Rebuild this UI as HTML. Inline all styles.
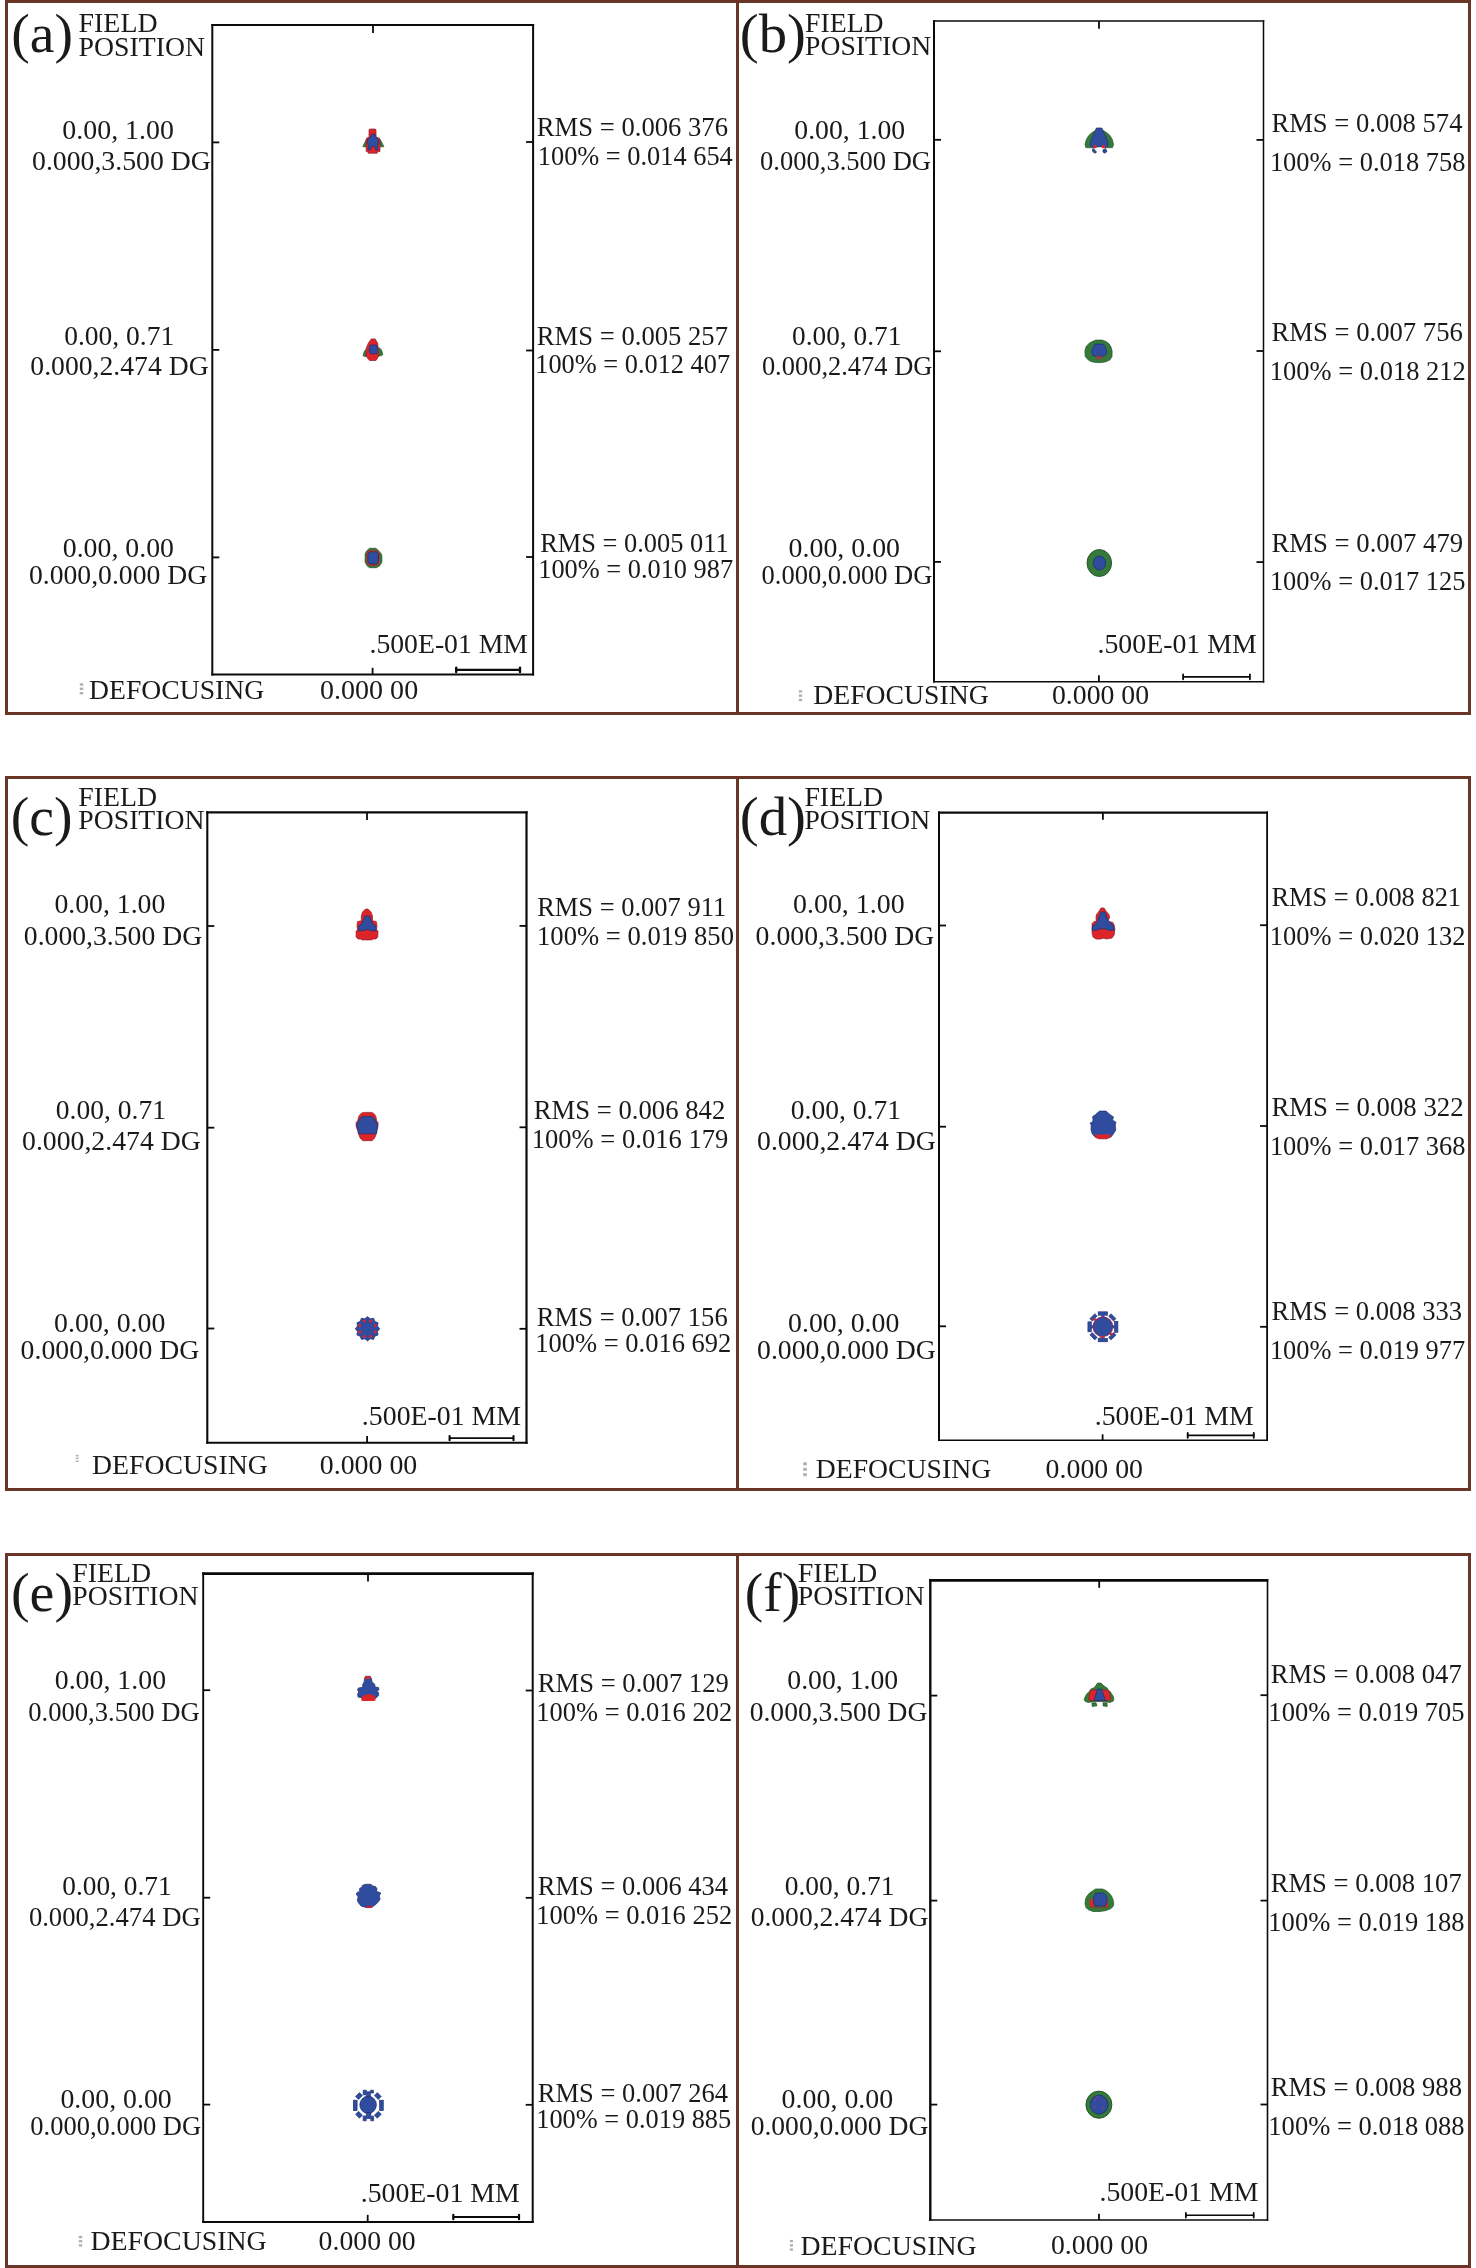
<!DOCTYPE html>
<html><head><meta charset="utf-8"><title>Spot diagrams</title>
<style>
html,body{margin:0;padding:0;background:#fff;}
body{width:1476px;height:2268px;overflow:hidden;font-family:"Liberation Serif",serif;}
svg{display:block;will-change:transform;}
</style></head><body>
<svg width="1476" height="2268" viewBox="0 0 1476 2268" font-family="'Liberation Serif', serif">
<rect x="5" y="0" width="1466" height="3" fill="#6a3527"/>
<rect x="5" y="712" width="1466" height="3" fill="#6a3527"/>
<rect x="5" y="0" width="3" height="715" fill="#6a3527"/>
<rect x="1468" y="0" width="3" height="715" fill="#6a3527"/>
<rect x="736" y="0" width="3" height="715" fill="#6a3527"/>
<rect x="5" y="776" width="1466" height="3" fill="#6a3527"/>
<rect x="5" y="1488" width="1466" height="3" fill="#6a3527"/>
<rect x="5" y="776" width="3" height="715" fill="#6a3527"/>
<rect x="1468" y="776" width="3" height="715" fill="#6a3527"/>
<rect x="736" y="776" width="3" height="715" fill="#6a3527"/>
<rect x="5" y="1553" width="1466" height="3" fill="#6a3527"/>
<rect x="5" y="2265" width="1466" height="3" fill="#6a3527"/>
<rect x="5" y="1553" width="3" height="715" fill="#6a3527"/>
<rect x="1468" y="1553" width="3" height="715" fill="#6a3527"/>
<rect x="736" y="1553" width="3" height="715" fill="#6a3527"/>
<path d="M212.30 24.00V675.60" stroke="#0a0a0a" stroke-width="2.00" fill="none"/>
<path d="M533.10 24.00V675.60" stroke="#0a0a0a" stroke-width="2.00" fill="none"/>
<path d="M211.30 25.00H534.10" stroke="#0a0a0a" stroke-width="2.00" fill="none"/>
<path d="M211.30 674.50H534.10" stroke="#0a0a0a" stroke-width="2.20" fill="none"/>
<line x1="373.00" y1="25.00" x2="373.00" y2="33.00" stroke="#0a0a0a" stroke-width="1.80"/>
<line x1="372.60" y1="674.50" x2="372.60" y2="667.80" stroke="#0a0a0a" stroke-width="1.80"/>
<line x1="212.30" y1="142.40" x2="219.30" y2="142.40" stroke="#0a0a0a" stroke-width="1.80"/>
<line x1="212.30" y1="349.90" x2="219.30" y2="349.90" stroke="#0a0a0a" stroke-width="1.80"/>
<line x1="212.30" y1="557.40" x2="219.30" y2="557.40" stroke="#0a0a0a" stroke-width="1.80"/>
<line x1="526.10" y1="142.00" x2="533.10" y2="142.00" stroke="#0a0a0a" stroke-width="1.80"/>
<line x1="526.10" y1="350.50" x2="533.10" y2="350.50" stroke="#0a0a0a" stroke-width="1.80"/>
<line x1="526.10" y1="557.00" x2="533.10" y2="557.00" stroke="#0a0a0a" stroke-width="1.80"/>
<line x1="456.20" y1="669.90" x2="520.00" y2="669.90" stroke="#0a0a0a" stroke-width="2.20"/>
<line x1="456.20" y1="667.80" x2="456.20" y2="672.00" stroke="#0a0a0a" stroke-width="2.40" stroke-linecap="round"/>
<line x1="520.00" y1="667.80" x2="520.00" y2="672.00" stroke="#0a0a0a" stroke-width="2.40" stroke-linecap="round"/>
<rect x="79.8" y="683.3" width="3.4" height="2.4" fill="#6a5a6a" opacity="0.5"/>
<rect x="79.8" y="687.6" width="3.4" height="2.4" fill="#6a5a6a" opacity="0.5"/>
<rect x="79.8" y="692.0" width="3.4" height="2.4" fill="#6a5a6a" opacity="0.5"/>
<text x="11.25" y="51.60" font-size="55.00" textLength="61.79" lengthAdjust="spacingAndGlyphs" fill="#1a1a1a">(a)</text>
<text x="78.60" y="31.70" font-size="26.60" textLength="78.92" lengthAdjust="spacingAndGlyphs" fill="#1a1a1a">FIELD</text>
<text x="78.60" y="55.70" font-size="26.60" textLength="126.44" lengthAdjust="spacingAndGlyphs" fill="#1a1a1a">POSITION</text>
<text x="62.34" y="139.20" font-size="26.80" textLength="111.63" lengthAdjust="spacingAndGlyphs" fill="#1a1a1a">0.00, 1.00</text>
<text x="32.04" y="169.70" font-size="26.80" textLength="178.72" lengthAdjust="spacingAndGlyphs" fill="#1a1a1a">0.000,3.500 DG</text>
<text x="536.83" y="136.10" font-size="26.80" textLength="191.16" lengthAdjust="spacingAndGlyphs" fill="#1a1a1a">RMS = 0.006 376</text>
<text x="537.78" y="164.80" font-size="26.80" textLength="195.03" lengthAdjust="spacingAndGlyphs" fill="#1a1a1a">100% = 0.014 654</text>
<text x="64.15" y="344.90" font-size="26.80" textLength="110.00" lengthAdjust="spacingAndGlyphs" fill="#1a1a1a">0.00, 0.71</text>
<text x="30.35" y="374.70" font-size="26.80" textLength="178.32" lengthAdjust="spacingAndGlyphs" fill="#1a1a1a">0.000,2.474 DG</text>
<text x="536.83" y="344.80" font-size="26.80" textLength="191.13" lengthAdjust="spacingAndGlyphs" fill="#1a1a1a">RMS = 0.005 257</text>
<text x="535.28" y="372.80" font-size="26.80" textLength="194.87" lengthAdjust="spacingAndGlyphs" fill="#1a1a1a">100% = 0.012 407</text>
<text x="62.74" y="556.60" font-size="26.80" textLength="111.22" lengthAdjust="spacingAndGlyphs" fill="#1a1a1a">0.00, 0.00</text>
<text x="28.95" y="583.60" font-size="26.80" textLength="178.22" lengthAdjust="spacingAndGlyphs" fill="#1a1a1a">0.000,0.000 DG</text>
<text x="540.14" y="552.10" font-size="26.80" textLength="188.64" lengthAdjust="spacingAndGlyphs" fill="#1a1a1a">RMS = 0.005 011</text>
<text x="538.28" y="577.90" font-size="26.80" textLength="194.87" lengthAdjust="spacingAndGlyphs" fill="#1a1a1a">100% = 0.010 987</text>
<text x="369.47" y="652.80" font-size="26.80" textLength="158.54" lengthAdjust="spacingAndGlyphs" fill="#1a1a1a">.500E-01 MM</text>
<text x="89.00" y="699.00" font-size="26.80" textLength="175.26" lengthAdjust="spacingAndGlyphs" fill="#1a1a1a">DEFOCUSING</text>
<text x="320.03" y="698.60" font-size="26.80" textLength="98.14" lengthAdjust="spacingAndGlyphs" fill="#1a1a1a">0.000 00</text>
<path d="M934.00 20.15V682.45" stroke="#0a0a0a" stroke-width="2.00" fill="none"/>
<path d="M1263.50 20.15V682.45" stroke="#0a0a0a" stroke-width="1.50" fill="none"/>
<path d="M933.00 21.00H1264.25" stroke="#0a0a0a" stroke-width="1.70" fill="none"/>
<path d="M933.00 681.70H1264.25" stroke="#0a0a0a" stroke-width="1.50" fill="none"/>
<line x1="1099.00" y1="21.00" x2="1099.00" y2="28.80" stroke="#0a0a0a" stroke-width="1.80"/>
<line x1="1098.90" y1="681.70" x2="1098.90" y2="675.30" stroke="#0a0a0a" stroke-width="1.80"/>
<line x1="934.00" y1="139.80" x2="941.00" y2="139.80" stroke="#0a0a0a" stroke-width="1.80"/>
<line x1="934.00" y1="351.30" x2="941.00" y2="351.30" stroke="#0a0a0a" stroke-width="1.80"/>
<line x1="934.00" y1="561.90" x2="941.00" y2="561.90" stroke="#0a0a0a" stroke-width="1.80"/>
<line x1="1256.50" y1="139.90" x2="1263.50" y2="139.90" stroke="#0a0a0a" stroke-width="1.80"/>
<line x1="1256.50" y1="351.00" x2="1263.50" y2="351.00" stroke="#0a0a0a" stroke-width="1.80"/>
<line x1="1256.50" y1="562.10" x2="1263.50" y2="562.10" stroke="#0a0a0a" stroke-width="1.80"/>
<line x1="1183.10" y1="676.90" x2="1249.90" y2="676.90" stroke="#0a0a0a" stroke-width="1.60"/>
<line x1="1183.10" y1="674.50" x2="1183.10" y2="679.30" stroke="#0a0a0a" stroke-width="1.80" stroke-linecap="round"/>
<line x1="1249.90" y1="674.50" x2="1249.90" y2="679.30" stroke="#0a0a0a" stroke-width="1.80" stroke-linecap="round"/>
<rect x="798.8" y="690.3" width="3.4" height="2.3" fill="#6a5a6a" opacity="0.5"/>
<rect x="798.8" y="694.5" width="3.4" height="2.3" fill="#6a5a6a" opacity="0.5"/>
<rect x="798.8" y="698.8" width="3.4" height="2.3" fill="#6a5a6a" opacity="0.5"/>
<text x="739.81" y="51.60" font-size="55.00" textLength="66.08" lengthAdjust="spacingAndGlyphs" fill="#1a1a1a">(b)</text>
<text x="805.10" y="31.50" font-size="26.60" textLength="78.51" lengthAdjust="spacingAndGlyphs" fill="#1a1a1a">FIELD</text>
<text x="805.10" y="55.20" font-size="26.60" textLength="126.03" lengthAdjust="spacingAndGlyphs" fill="#1a1a1a">POSITION</text>
<text x="794.34" y="139.10" font-size="26.80" textLength="110.91" lengthAdjust="spacingAndGlyphs" fill="#1a1a1a">0.00, 1.00</text>
<text x="760.09" y="169.60" font-size="26.80" textLength="170.94" lengthAdjust="spacingAndGlyphs" fill="#1a1a1a">0.000,3.500 DG</text>
<text x="1271.43" y="132.30" font-size="26.80" textLength="191.08" lengthAdjust="spacingAndGlyphs" fill="#1a1a1a">RMS = 0.008 574</text>
<text x="1269.88" y="170.50" font-size="26.80" textLength="195.53" lengthAdjust="spacingAndGlyphs" fill="#1a1a1a">100% = 0.018 758</text>
<text x="792.06" y="344.50" font-size="26.80" textLength="109.28" lengthAdjust="spacingAndGlyphs" fill="#1a1a1a">0.00, 0.71</text>
<text x="761.89" y="374.60" font-size="26.80" textLength="170.53" lengthAdjust="spacingAndGlyphs" fill="#1a1a1a">0.000,2.474 DG</text>
<text x="1271.43" y="340.90" font-size="26.80" textLength="191.46" lengthAdjust="spacingAndGlyphs" fill="#1a1a1a">RMS = 0.007 756</text>
<text x="1269.87" y="380.10" font-size="26.80" textLength="195.99" lengthAdjust="spacingAndGlyphs" fill="#1a1a1a">100% = 0.018 212</text>
<text x="788.54" y="556.80" font-size="26.80" textLength="111.52" lengthAdjust="spacingAndGlyphs" fill="#1a1a1a">0.00, 0.00</text>
<text x="761.49" y="583.90" font-size="26.80" textLength="170.94" lengthAdjust="spacingAndGlyphs" fill="#1a1a1a">0.000,0.000 DG</text>
<text x="1271.43" y="551.90" font-size="26.80" textLength="191.77" lengthAdjust="spacingAndGlyphs" fill="#1a1a1a">RMS = 0.007 479</text>
<text x="1269.88" y="590.10" font-size="26.80" textLength="195.56" lengthAdjust="spacingAndGlyphs" fill="#1a1a1a">100% = 0.017 125</text>
<text x="1097.47" y="653.30" font-size="26.80" textLength="159.25" lengthAdjust="spacingAndGlyphs" fill="#1a1a1a">.500E-01 MM</text>
<text x="813.20" y="703.80" font-size="26.80" textLength="175.56" lengthAdjust="spacingAndGlyphs" fill="#1a1a1a">DEFOCUSING</text>
<text x="1051.94" y="703.70" font-size="26.80" textLength="97.22" lengthAdjust="spacingAndGlyphs" fill="#1a1a1a">0.000 00</text>
<path d="M207.30 811.20V1443.70" stroke="#0a0a0a" stroke-width="2.10" fill="none"/>
<path d="M526.50 811.20V1443.70" stroke="#0a0a0a" stroke-width="2.20" fill="none"/>
<path d="M206.25 812.40H527.60" stroke="#0a0a0a" stroke-width="2.40" fill="none"/>
<path d="M206.25 1442.70H527.60" stroke="#0a0a0a" stroke-width="2.00" fill="none"/>
<line x1="367.00" y1="812.40" x2="367.00" y2="819.90" stroke="#0a0a0a" stroke-width="1.80"/>
<line x1="367.10" y1="1442.70" x2="367.10" y2="1435.90" stroke="#0a0a0a" stroke-width="1.80"/>
<line x1="207.30" y1="926.00" x2="214.30" y2="926.00" stroke="#0a0a0a" stroke-width="1.80"/>
<line x1="207.30" y1="1127.70" x2="214.30" y2="1127.70" stroke="#0a0a0a" stroke-width="1.80"/>
<line x1="207.30" y1="1328.50" x2="214.30" y2="1328.50" stroke="#0a0a0a" stroke-width="1.80"/>
<line x1="519.50" y1="925.90" x2="526.50" y2="925.90" stroke="#0a0a0a" stroke-width="1.80"/>
<line x1="519.50" y1="1127.30" x2="526.50" y2="1127.30" stroke="#0a0a0a" stroke-width="1.80"/>
<line x1="519.50" y1="1328.80" x2="526.50" y2="1328.80" stroke="#0a0a0a" stroke-width="1.80"/>
<line x1="449.60" y1="1438.10" x2="513.50" y2="1438.10" stroke="#0a0a0a" stroke-width="1.90"/>
<line x1="449.60" y1="1436.00" x2="449.60" y2="1440.20" stroke="#0a0a0a" stroke-width="2.10" stroke-linecap="round"/>
<line x1="513.50" y1="1436.00" x2="513.50" y2="1440.20" stroke="#0a0a0a" stroke-width="2.10" stroke-linecap="round"/>
<rect x="75.8" y="1454.9" width="2.8" height="1.5" fill="#6a5a6a" opacity="0.5"/>
<rect x="75.8" y="1457.6" width="2.8" height="1.5" fill="#6a5a6a" opacity="0.5"/>
<rect x="75.8" y="1460.4" width="2.8" height="1.5" fill="#6a5a6a" opacity="0.5"/>
<text x="10.65" y="835.00" font-size="55.00" textLength="61.79" lengthAdjust="spacingAndGlyphs" fill="#1a1a1a">(c)</text>
<text x="78.30" y="805.50" font-size="26.60" textLength="78.82" lengthAdjust="spacingAndGlyphs" fill="#1a1a1a">FIELD</text>
<text x="78.30" y="829.40" font-size="26.60" textLength="126.23" lengthAdjust="spacingAndGlyphs" fill="#1a1a1a">POSITION</text>
<text x="54.44" y="913.00" font-size="26.80" textLength="110.91" lengthAdjust="spacingAndGlyphs" fill="#1a1a1a">0.00, 1.00</text>
<text x="23.85" y="944.70" font-size="26.80" textLength="178.32" lengthAdjust="spacingAndGlyphs" fill="#1a1a1a">0.000,3.500 DG</text>
<text x="537.14" y="916.30" font-size="26.80" textLength="189.04" lengthAdjust="spacingAndGlyphs" fill="#1a1a1a">RMS = 0.007 911</text>
<text x="537.06" y="945.20" font-size="26.80" textLength="196.95" lengthAdjust="spacingAndGlyphs" fill="#1a1a1a">100% = 0.019 850</text>
<text x="55.85" y="1119.20" font-size="26.80" textLength="110.10" lengthAdjust="spacingAndGlyphs" fill="#1a1a1a">0.00, 0.71</text>
<text x="22.04" y="1149.70" font-size="26.80" textLength="178.72" lengthAdjust="spacingAndGlyphs" fill="#1a1a1a">0.000,2.474 DG</text>
<text x="533.73" y="1118.70" font-size="26.80" textLength="191.54" lengthAdjust="spacingAndGlyphs" fill="#1a1a1a">RMS = 0.006 842</text>
<text x="531.76" y="1147.90" font-size="26.80" textLength="196.52" lengthAdjust="spacingAndGlyphs" fill="#1a1a1a">100% = 0.016 179</text>
<text x="54.14" y="1332.00" font-size="26.80" textLength="111.22" lengthAdjust="spacingAndGlyphs" fill="#1a1a1a">0.00, 0.00</text>
<text x="20.64" y="1358.60" font-size="26.80" textLength="178.72" lengthAdjust="spacingAndGlyphs" fill="#1a1a1a">0.000,0.000 DG</text>
<text x="536.83" y="1325.90" font-size="26.80" textLength="190.86" lengthAdjust="spacingAndGlyphs" fill="#1a1a1a">RMS = 0.007 156</text>
<text x="535.27" y="1352.20" font-size="26.80" textLength="196.09" lengthAdjust="spacingAndGlyphs" fill="#1a1a1a">100% = 0.016 692</text>
<text x="361.87" y="1425.40" font-size="26.80" textLength="159.25" lengthAdjust="spacingAndGlyphs" fill="#1a1a1a">.500E-01 MM</text>
<text x="92.00" y="1474.00" font-size="26.80" textLength="175.77" lengthAdjust="spacingAndGlyphs" fill="#1a1a1a">DEFOCUSING</text>
<text x="319.74" y="1474.00" font-size="26.80" textLength="97.52" lengthAdjust="spacingAndGlyphs" fill="#1a1a1a">0.000 00</text>
<path d="M939.00 811.50V1441.00" stroke="#0a0a0a" stroke-width="2.00" fill="none"/>
<path d="M1267.10 811.50V1441.00" stroke="#0a0a0a" stroke-width="1.80" fill="none"/>
<path d="M938.00 812.60H1268.00" stroke="#0a0a0a" stroke-width="2.20" fill="none"/>
<path d="M938.00 1440.20H1268.00" stroke="#0a0a0a" stroke-width="1.60" fill="none"/>
<line x1="1102.90" y1="812.60" x2="1102.90" y2="819.80" stroke="#0a0a0a" stroke-width="1.80"/>
<line x1="1102.60" y1="1440.20" x2="1102.60" y2="1434.30" stroke="#0a0a0a" stroke-width="1.80"/>
<line x1="939.00" y1="925.50" x2="946.00" y2="925.50" stroke="#0a0a0a" stroke-width="1.80"/>
<line x1="939.00" y1="1126.70" x2="946.00" y2="1126.70" stroke="#0a0a0a" stroke-width="1.80"/>
<line x1="939.00" y1="1326.30" x2="946.00" y2="1326.30" stroke="#0a0a0a" stroke-width="1.80"/>
<line x1="1260.10" y1="925.20" x2="1267.10" y2="925.20" stroke="#0a0a0a" stroke-width="1.80"/>
<line x1="1260.10" y1="1126.00" x2="1267.10" y2="1126.00" stroke="#0a0a0a" stroke-width="1.80"/>
<line x1="1260.10" y1="1326.80" x2="1267.10" y2="1326.80" stroke="#0a0a0a" stroke-width="1.80"/>
<line x1="1187.70" y1="1435.40" x2="1253.80" y2="1435.40" stroke="#0a0a0a" stroke-width="1.70"/>
<line x1="1187.70" y1="1433.00" x2="1187.70" y2="1437.80" stroke="#0a0a0a" stroke-width="1.90" stroke-linecap="round"/>
<line x1="1253.80" y1="1433.00" x2="1253.80" y2="1437.80" stroke="#0a0a0a" stroke-width="1.90" stroke-linecap="round"/>
<rect x="803.2" y="1462.3" width="3.6" height="3.0" fill="#6a5a6a" opacity="0.5"/>
<rect x="803.2" y="1467.8" width="3.6" height="3.0" fill="#6a5a6a" opacity="0.5"/>
<rect x="803.2" y="1473.2" width="3.6" height="3.0" fill="#6a5a6a" opacity="0.5"/>
<text x="739.70" y="835.00" font-size="55.00" textLength="66.41" lengthAdjust="spacingAndGlyphs" fill="#1a1a1a">(d)</text>
<text x="804.40" y="805.50" font-size="26.60" textLength="78.82" lengthAdjust="spacingAndGlyphs" fill="#1a1a1a">FIELD</text>
<text x="804.40" y="829.40" font-size="26.60" textLength="125.73" lengthAdjust="spacingAndGlyphs" fill="#1a1a1a">POSITION</text>
<text x="793.04" y="913.00" font-size="26.80" textLength="111.63" lengthAdjust="spacingAndGlyphs" fill="#1a1a1a">0.00, 1.00</text>
<text x="755.64" y="944.70" font-size="26.80" textLength="178.72" lengthAdjust="spacingAndGlyphs" fill="#1a1a1a">0.000,3.500 DG</text>
<text x="1271.44" y="905.90" font-size="26.80" textLength="189.65" lengthAdjust="spacingAndGlyphs" fill="#1a1a1a">RMS = 0.008 821</text>
<text x="1269.87" y="945.10" font-size="26.80" textLength="195.68" lengthAdjust="spacingAndGlyphs" fill="#1a1a1a">100% = 0.020 132</text>
<text x="790.85" y="1119.20" font-size="26.80" textLength="110.10" lengthAdjust="spacingAndGlyphs" fill="#1a1a1a">0.00, 0.71</text>
<text x="757.04" y="1149.70" font-size="26.80" textLength="178.72" lengthAdjust="spacingAndGlyphs" fill="#1a1a1a">0.000,2.474 DG</text>
<text x="1271.43" y="1115.90" font-size="26.80" textLength="192.15" lengthAdjust="spacingAndGlyphs" fill="#1a1a1a">RMS = 0.008 322</text>
<text x="1269.88" y="1155.10" font-size="26.80" textLength="195.53" lengthAdjust="spacingAndGlyphs" fill="#1a1a1a">100% = 0.017 368</text>
<text x="788.04" y="1332.00" font-size="26.80" textLength="111.32" lengthAdjust="spacingAndGlyphs" fill="#1a1a1a">0.00, 0.00</text>
<text x="757.04" y="1358.60" font-size="26.80" textLength="178.72" lengthAdjust="spacingAndGlyphs" fill="#1a1a1a">0.000,0.000 DG</text>
<text x="1271.43" y="1319.90" font-size="26.80" textLength="190.60" lengthAdjust="spacingAndGlyphs" fill="#1a1a1a">RMS = 0.008 333</text>
<text x="1269.88" y="1358.90" font-size="26.80" textLength="195.28" lengthAdjust="spacingAndGlyphs" fill="#1a1a1a">100% = 0.019 977</text>
<text x="1094.77" y="1425.40" font-size="26.80" textLength="158.84" lengthAdjust="spacingAndGlyphs" fill="#1a1a1a">.500E-01 MM</text>
<text x="815.70" y="1478.00" font-size="26.80" textLength="175.56" lengthAdjust="spacingAndGlyphs" fill="#1a1a1a">DEFOCUSING</text>
<text x="1045.64" y="1477.80" font-size="26.80" textLength="97.32" lengthAdjust="spacingAndGlyphs" fill="#1a1a1a">0.000 00</text>
<path d="M203.20 1572.30V2222.90" stroke="#0a0a0a" stroke-width="1.90" fill="none"/>
<path d="M532.70 1572.30V2222.90" stroke="#0a0a0a" stroke-width="2.00" fill="none"/>
<path d="M202.25 1573.60H533.70" stroke="#0a0a0a" stroke-width="2.60" fill="none"/>
<path d="M202.25 2221.90H533.70" stroke="#0a0a0a" stroke-width="2.00" fill="none"/>
<line x1="368.00" y1="1573.60" x2="368.00" y2="1581.50" stroke="#0a0a0a" stroke-width="1.80"/>
<line x1="367.70" y1="2221.90" x2="367.70" y2="2214.90" stroke="#0a0a0a" stroke-width="1.80"/>
<line x1="203.20" y1="1690.20" x2="210.20" y2="1690.20" stroke="#0a0a0a" stroke-width="1.80"/>
<line x1="203.20" y1="1897.70" x2="210.20" y2="1897.70" stroke="#0a0a0a" stroke-width="1.80"/>
<line x1="203.20" y1="2104.60" x2="210.20" y2="2104.60" stroke="#0a0a0a" stroke-width="1.80"/>
<line x1="525.70" y1="1690.50" x2="532.70" y2="1690.50" stroke="#0a0a0a" stroke-width="1.80"/>
<line x1="525.70" y1="1897.80" x2="532.70" y2="1897.80" stroke="#0a0a0a" stroke-width="1.80"/>
<line x1="525.70" y1="2104.80" x2="532.70" y2="2104.80" stroke="#0a0a0a" stroke-width="1.80"/>
<line x1="453.30" y1="2217.00" x2="519.00" y2="2217.00" stroke="#0a0a0a" stroke-width="2.00"/>
<line x1="453.30" y1="2214.80" x2="453.30" y2="2219.20" stroke="#0a0a0a" stroke-width="2.20" stroke-linecap="round"/>
<line x1="519.00" y1="2214.80" x2="519.00" y2="2219.20" stroke="#0a0a0a" stroke-width="2.20" stroke-linecap="round"/>
<rect x="78.8" y="2235.9" width="3.4" height="2.3" fill="#6a5a6a" opacity="0.5"/>
<rect x="78.8" y="2240.1" width="3.4" height="2.3" fill="#6a5a6a" opacity="0.5"/>
<rect x="78.8" y="2244.3" width="3.4" height="2.3" fill="#6a5a6a" opacity="0.5"/>
<text x="10.94" y="1611.00" font-size="55.00" textLength="62.12" lengthAdjust="spacingAndGlyphs" fill="#1a1a1a">(e)</text>
<text x="72.30" y="1581.50" font-size="26.60" textLength="78.82" lengthAdjust="spacingAndGlyphs" fill="#1a1a1a">FIELD</text>
<text x="72.30" y="1605.40" font-size="26.60" textLength="126.23" lengthAdjust="spacingAndGlyphs" fill="#1a1a1a">POSITION</text>
<text x="54.74" y="1689.20" font-size="26.80" textLength="111.32" lengthAdjust="spacingAndGlyphs" fill="#1a1a1a">0.00, 1.00</text>
<text x="28.19" y="1720.90" font-size="26.80" textLength="171.55" lengthAdjust="spacingAndGlyphs" fill="#1a1a1a">0.000,3.500 DG</text>
<text x="537.83" y="1692.00" font-size="26.80" textLength="190.96" lengthAdjust="spacingAndGlyphs" fill="#1a1a1a">RMS = 0.007 129</text>
<text x="536.27" y="1721.00" font-size="26.80" textLength="195.89" lengthAdjust="spacingAndGlyphs" fill="#1a1a1a">100% = 0.016 202</text>
<text x="62.26" y="1895.20" font-size="26.80" textLength="109.38" lengthAdjust="spacingAndGlyphs" fill="#1a1a1a">0.00, 0.71</text>
<text x="28.88" y="1925.90" font-size="26.80" textLength="171.85" lengthAdjust="spacingAndGlyphs" fill="#1a1a1a">0.000,2.474 DG</text>
<text x="537.84" y="1894.70" font-size="26.80" textLength="190.28" lengthAdjust="spacingAndGlyphs" fill="#1a1a1a">RMS = 0.006 434</text>
<text x="536.27" y="1923.70" font-size="26.80" textLength="195.89" lengthAdjust="spacingAndGlyphs" fill="#1a1a1a">100% = 0.016 252</text>
<text x="60.44" y="2107.70" font-size="26.80" textLength="111.32" lengthAdjust="spacingAndGlyphs" fill="#1a1a1a">0.00, 0.00</text>
<text x="30.29" y="2134.70" font-size="26.80" textLength="170.84" lengthAdjust="spacingAndGlyphs" fill="#1a1a1a">0.000,0.000 DG</text>
<text x="537.84" y="2102.00" font-size="26.80" textLength="190.28" lengthAdjust="spacingAndGlyphs" fill="#1a1a1a">RMS = 0.007 264</text>
<text x="536.28" y="2127.90" font-size="26.80" textLength="194.95" lengthAdjust="spacingAndGlyphs" fill="#1a1a1a">100% = 0.019 885</text>
<text x="360.77" y="2201.50" font-size="26.80" textLength="158.94" lengthAdjust="spacingAndGlyphs" fill="#1a1a1a">.500E-01 MM</text>
<text x="90.50" y="2249.70" font-size="26.80" textLength="176.07" lengthAdjust="spacingAndGlyphs" fill="#1a1a1a">DEFOCUSING</text>
<text x="318.64" y="2249.80" font-size="26.80" textLength="97.11" lengthAdjust="spacingAndGlyphs" fill="#1a1a1a">0.000 00</text>
<path d="M930.30 1579.05V2220.85" stroke="#0a0a0a" stroke-width="2.40" fill="none"/>
<path d="M1267.50 1579.05V2220.85" stroke="#0a0a0a" stroke-width="1.60" fill="none"/>
<path d="M929.10 1580.40H1268.30" stroke="#0a0a0a" stroke-width="2.70" fill="none"/>
<path d="M929.10 2220.00H1268.30" stroke="#0a0a0a" stroke-width="1.70" fill="none"/>
<line x1="1099.20" y1="1580.40" x2="1099.20" y2="1587.80" stroke="#0a0a0a" stroke-width="1.80"/>
<line x1="1099.00" y1="2220.00" x2="1099.00" y2="2213.70" stroke="#0a0a0a" stroke-width="1.80"/>
<line x1="930.30" y1="1695.60" x2="937.30" y2="1695.60" stroke="#0a0a0a" stroke-width="1.80"/>
<line x1="930.30" y1="1900.60" x2="937.30" y2="1900.60" stroke="#0a0a0a" stroke-width="1.80"/>
<line x1="930.30" y1="2104.60" x2="937.30" y2="2104.60" stroke="#0a0a0a" stroke-width="1.80"/>
<line x1="1260.50" y1="1695.20" x2="1267.50" y2="1695.20" stroke="#0a0a0a" stroke-width="1.80"/>
<line x1="1260.50" y1="1900.60" x2="1267.50" y2="1900.60" stroke="#0a0a0a" stroke-width="1.80"/>
<line x1="1260.50" y1="2104.50" x2="1267.50" y2="2104.50" stroke="#0a0a0a" stroke-width="1.80"/>
<line x1="1185.90" y1="2215.20" x2="1253.70" y2="2215.20" stroke="#0a0a0a" stroke-width="1.60"/>
<line x1="1185.90" y1="2212.90" x2="1185.90" y2="2217.50" stroke="#0a0a0a" stroke-width="1.80" stroke-linecap="round"/>
<line x1="1253.70" y1="2212.90" x2="1253.70" y2="2217.50" stroke="#0a0a0a" stroke-width="1.80" stroke-linecap="round"/>
<rect x="789.9" y="2239.9" width="3.1" height="2.3" fill="#6a5a6a" opacity="0.5"/>
<rect x="789.9" y="2244.2" width="3.1" height="2.3" fill="#6a5a6a" opacity="0.5"/>
<rect x="789.9" y="2248.4" width="3.1" height="2.3" fill="#6a5a6a" opacity="0.5"/>
<text x="744.76" y="1611.00" font-size="55.00" textLength="55.37" lengthAdjust="spacingAndGlyphs" fill="#1a1a1a">(f)</text>
<text x="797.79" y="1581.50" font-size="26.60" textLength="79.33" lengthAdjust="spacingAndGlyphs" fill="#1a1a1a">FIELD</text>
<text x="797.80" y="1605.40" font-size="26.60" textLength="126.74" lengthAdjust="spacingAndGlyphs" fill="#1a1a1a">POSITION</text>
<text x="787.34" y="1689.20" font-size="26.80" textLength="110.91" lengthAdjust="spacingAndGlyphs" fill="#1a1a1a">0.00, 1.00</text>
<text x="749.65" y="1720.90" font-size="26.80" textLength="177.81" lengthAdjust="spacingAndGlyphs" fill="#1a1a1a">0.000,3.500 DG</text>
<text x="1270.63" y="1682.60" font-size="26.80" textLength="191.13" lengthAdjust="spacingAndGlyphs" fill="#1a1a1a">RMS = 0.008 047</text>
<text x="1268.37" y="1720.80" font-size="26.80" textLength="196.27" lengthAdjust="spacingAndGlyphs" fill="#1a1a1a">100% = 0.019 705</text>
<text x="784.75" y="1895.20" font-size="26.80" textLength="109.79" lengthAdjust="spacingAndGlyphs" fill="#1a1a1a">0.00, 0.71</text>
<text x="750.65" y="1925.90" font-size="26.80" textLength="177.71" lengthAdjust="spacingAndGlyphs" fill="#1a1a1a">0.000,2.474 DG</text>
<text x="1270.63" y="1892.20" font-size="26.80" textLength="191.13" lengthAdjust="spacingAndGlyphs" fill="#1a1a1a">RMS = 0.008 107</text>
<text x="1268.37" y="1930.80" font-size="26.80" textLength="196.24" lengthAdjust="spacingAndGlyphs" fill="#1a1a1a">100% = 0.019 188</text>
<text x="781.64" y="2107.70" font-size="26.80" textLength="111.63" lengthAdjust="spacingAndGlyphs" fill="#1a1a1a">0.00, 0.00</text>
<text x="750.65" y="2134.70" font-size="26.80" textLength="177.71" lengthAdjust="spacingAndGlyphs" fill="#1a1a1a">0.000,0.000 DG</text>
<text x="1270.63" y="2095.90" font-size="26.80" textLength="191.38" lengthAdjust="spacingAndGlyphs" fill="#1a1a1a">RMS = 0.008 988</text>
<text x="1268.37" y="2135.10" font-size="26.80" textLength="196.24" lengthAdjust="spacingAndGlyphs" fill="#1a1a1a">100% = 0.018 088</text>
<text x="1099.47" y="2200.90" font-size="26.80" textLength="158.94" lengthAdjust="spacingAndGlyphs" fill="#1a1a1a">.500E-01 MM</text>
<text x="800.50" y="2254.50" font-size="26.80" textLength="176.07" lengthAdjust="spacingAndGlyphs" fill="#1a1a1a">DEFOCUSING</text>
<text x="1050.94" y="2254.20" font-size="26.80" textLength="97.22" lengthAdjust="spacingAndGlyphs" fill="#1a1a1a">0.000 00</text>
<polygon points="362.8,146.6 366.3,139.6 368.5,141.0 368.0,147.0" fill="#357a3a" stroke="#1f5224" stroke-width="0.70" stroke-linejoin="round"/>
<polygon points="383.9,146.6 380.2,139.6 378.0,141.0 378.5,147.0" fill="#357a3a" stroke="#1f5224" stroke-width="0.70" stroke-linejoin="round"/>
<polygon points="369.8,129.0 375.2,129.0 376.0,130.0 376.1,137.3 379.2,138.0 380.0,139.5 380.0,151.5 377.3,151.8 377.2,153.2 368.2,153.2 368.0,151.8 366.2,151.5 366.1,139.5 366.8,138.0 369.0,137.3 369.0,130.0" fill="#dc2429" stroke="#8c1f2a" stroke-width="0.70" stroke-linejoin="round"/>
<polygon points="372.0,134.0 374.5,134.0 376.0,137.0 378.6,139.5 378.4,143.0 377.5,146.0 378.0,150.0 376.0,150.2 375.0,147.0 373.2,146.0 371.5,147.0 370.3,150.2 368.0,150.0 368.6,146.0 367.6,143.0 367.5,139.5 370.5,137.0" fill="#2f4c9e" stroke="#1e2f6e" stroke-width="0.70" stroke-linejoin="round"/>
<polygon points="367.0,348.5 364.5,351.0 363.0,355.5 364.0,356.3 368.0,356.6" fill="#357a3a" stroke="#1f5224" stroke-width="0.70" stroke-linejoin="round"/>
<polygon points="379.0,347.5 381.5,350.0 382.9,354.5 381.5,355.6 378.0,356.2" fill="#357a3a" stroke="#1f5224" stroke-width="0.70" stroke-linejoin="round"/>
<polygon points="371.3,338.9 375.1,338.9 377.6,343.0 378.3,348.0 378.5,352.0 378.5,356.0 377.5,358.2 376.0,360.5 369.6,360.5 367.6,358.2 366.1,356.0 366.1,352.0 366.3,348.0 368.4,343.0" fill="#dc2429" stroke="#8c1f2a" stroke-width="0.70" stroke-linejoin="round"/>
<polygon points="370.2,345.0 376.6,345.0 377.6,349.4 376.6,353.8 370.2,353.8 369.0,349.4" fill="#2f4c9e" stroke="#1e2f6e" stroke-width="0.70" stroke-linejoin="round"/>
<polygon points="369.5,548.3 375.8,548.3 378.5,550.5 381.0,553.5 381.9,556.0 381.9,562.0 380.0,565.5 376.5,567.7 369.5,567.7 366.8,565.5 365.1,562.0 365.1,554.0 366.5,551.0" fill="#357a3a" stroke="#1f5224" stroke-width="0.70" stroke-linejoin="round"/>
<polygon points="369.5,550.0 376.0,550.0 379.3,552.5 380.0,556.0 380.0,562.0 378.5,565.0 375.5,566.0 370.0,566.0 367.3,564.5 366.2,561.0 366.2,555.0 367.3,552.0" fill="#a8322e" opacity="0.95"/>
<polygon points="370.0,551.9 376.5,551.9 378.4,554.5 378.4,561.0 376.5,564.0 370.0,564.0 368.0,561.5 368.0,554.5" fill="#2f4c9e" stroke="#1e2f6e" stroke-width="0.70" stroke-linejoin="round"/>
<polygon points="1095.5,130.5 1103.0,130.5 1106.5,132.5 1110.0,135.5 1112.3,139.5 1113.5,144.5 1112.5,147.6 1108.0,147.8 1104.0,146.5 1095.0,146.5 1090.5,147.8 1085.8,147.6 1085.0,144.5 1086.3,139.5 1088.8,135.5 1092.0,132.5" fill="#357a3a" stroke="#1f5224" stroke-width="0.70" stroke-linejoin="round"/>
<polygon points="1096.3,128.0 1101.8,128.0 1103.3,131.5 1105.8,136.5 1107.8,141.5 1108.0,145.8 1106.0,147.8 1104.0,146.8 1095.0,146.8 1092.5,147.8 1090.3,145.8 1090.6,141.5 1092.6,136.5 1095.0,131.5" fill="#2f4c9e" stroke="#1e2f6e" stroke-width="0.70" stroke-linejoin="round"/>
<polygon points="1093.5,145.0 1096.5,145.0 1096.5,148.2 1093.8,148.2" fill="#dc2429"/>
<polygon points="1102.0,145.0 1105.0,145.0 1104.8,148.2 1102.0,148.2" fill="#dc2429"/>
<polygon points="1092.2,149.5 1093.5,148.5 1096.5,152.0 1095.5,153.2 1093.0,152.0" fill="#2a5a6a" stroke="#1e2f6e" stroke-width="0.70" stroke-linejoin="round"/>
<polygon points="1103.0,150.0 1105.5,148.5 1107.0,151.5 1104.5,153.2 1103.0,152.0" fill="#2a4a8a" stroke="#1e2f6e" stroke-width="0.70" stroke-linejoin="round"/>
<polygon points="1096.0,340.1 1102.0,340.1 1106.0,341.5 1109.2,344.0 1111.0,347.0 1112.1,351.0 1112.0,356.5 1110.0,359.8 1106.0,361.8 1101.0,362.6 1096.0,362.6 1091.0,361.6 1087.8,359.5 1085.2,356.5 1084.9,350.5 1086.3,346.2 1089.5,343.0 1093.0,341.2" fill="#357a3a" stroke="#1f5224" stroke-width="0.70" stroke-linejoin="round"/>
<polygon points="1094.8,344.1 1103.5,344.1 1105.0,346.5 1106.3,349.5 1106.8,352.5 1105.8,355.0 1103.0,356.3 1095.0,356.3 1092.5,355.0 1091.7,352.5 1092.3,349.5 1093.6,346.5" fill="#2f4c9e" stroke="#1e2f6e" stroke-width="0.70" stroke-linejoin="round"/>
<polygon points="1096.0,355.8 1102.2,355.8 1102.2,359.3 1096.0,359.3" fill="#9a3a4a" opacity="0.85"/>
<ellipse cx="1099.3" cy="563.0" rx="12.3" ry="13.5" fill="#357a3a" stroke="#1f5224" stroke-width="0.90"/>
<ellipse cx="1099.5" cy="563.0" rx="6.2" ry="6.9" fill="#2f4c9e" stroke="#1e2f6e" stroke-width="0.80"/>
<polygon points="365.5,909.0 368.0,909.0 371.0,912.0 372.5,916.0 372.5,920.8 376.3,921.5 377.0,926.0 376.5,929.8 378.0,931.0 377.8,937.0 376.0,939.0 372.2,939.0 372.2,939.9 361.8,939.9 361.8,939.0 358.0,939.0 356.1,937.0 356.1,931.0 357.5,929.8 357.0,926.0 357.5,921.5 361.3,920.8 361.3,916.0 362.5,912.0" fill="#dc2429" stroke="#8c1f2a" stroke-width="0.70" stroke-linejoin="round"/>
<polygon points="365.0,916.0 369.6,916.0 371.0,920.0 372.8,923.8 375.5,925.8 376.2,931.0 370.2,930.5 367.2,929.2 364.2,930.5 358.5,931.0 358.8,925.8 361.8,923.8 363.5,920.0" fill="#2f4c9e" stroke="#1e2f6e" stroke-width="0.70" stroke-linejoin="round"/>
<polygon points="363.0,1112.4 372.0,1112.4 374.6,1114.2 376.0,1117.0 376.6,1120.8 378.0,1122.4 377.8,1127.0 376.8,1130.5 376.0,1134.5 374.5,1138.3 372.0,1140.7 363.0,1140.7 360.2,1138.3 358.7,1134.5 357.6,1130.5 356.3,1127.0 356.1,1122.4 357.8,1120.8 358.5,1117.0 360.2,1114.2" fill="#dc2429" stroke="#8c1f2a" stroke-width="0.70" stroke-linejoin="round"/>
<polygon points="362.3,1116.6 371.8,1116.6 374.6,1119.0 376.3,1122.0 377.8,1124.6 377.4,1128.0 376.5,1133.8 358.6,1133.8 357.6,1128.0 356.4,1124.6 358.2,1122.0 359.6,1119.0" fill="#2f4c9e" stroke="#1e2f6e" stroke-width="0.70" stroke-linejoin="round"/>
<polygon points="379.7,1328.8 377.5,1331.5 378.1,1334.9 374.9,1336.2 373.6,1339.4 370.2,1338.8 367.5,1341.0 364.8,1338.8 361.4,1339.4 360.1,1336.2 356.9,1334.9 357.5,1331.5 355.3,1328.8 357.5,1326.1 356.9,1322.7 360.1,1321.4 361.4,1318.2 364.8,1318.8 367.5,1316.6 370.2,1318.8 373.6,1318.2 374.9,1321.4 378.1,1322.7 377.5,1326.1" fill="#2f4c9e" stroke="#1e2f6e" stroke-width="0.70" stroke-linejoin="round"/>
<ellipse cx="375.1" cy="1331.9" rx="1.6" ry="1.6" fill="#c8283a"/>
<ellipse cx="370.6" cy="1336.4" rx="1.6" ry="1.6" fill="#c8283a"/>
<ellipse cx="364.4" cy="1336.4" rx="1.6" ry="1.6" fill="#c8283a"/>
<ellipse cx="359.9" cy="1331.9" rx="1.6" ry="1.6" fill="#c8283a"/>
<ellipse cx="359.9" cy="1325.7" rx="1.6" ry="1.6" fill="#c8283a"/>
<ellipse cx="364.4" cy="1321.2" rx="1.6" ry="1.6" fill="#c8283a"/>
<ellipse cx="370.6" cy="1321.2" rx="1.6" ry="1.6" fill="#c8283a"/>
<ellipse cx="375.1" cy="1325.7" rx="1.6" ry="1.6" fill="#c8283a"/>
<ellipse cx="367.5" cy="1328.8" rx="6.8" ry="6.8" fill="#2f4c9e"/>
<polygon points="1101.0,908.0 1104.0,908.0 1106.5,911.8 1109.0,914.5 1109.6,918.0 1108.0,920.3 1109.3,921.8 1112.6,922.2 1114.2,925.0 1114.9,929.0 1114.2,935.0 1112.0,938.0 1106.5,939.0 1103.5,938.2 1100.5,939.1 1096.0,939.1 1093.0,937.0 1092.1,933.0 1092.1,923.5 1094.0,921.6 1096.5,921.0 1096.0,919.0 1096.2,915.0 1098.6,911.8" fill="#dc2429" stroke="#8c1f2a" stroke-width="0.70" stroke-linejoin="round"/>
<polygon points="1101.0,912.0 1105.0,912.0 1106.2,916.0 1108.0,920.0 1110.2,922.6 1113.2,925.0 1114.2,930.3 1108.5,930.3 1105.0,928.8 1100.0,928.8 1096.5,930.3 1092.1,930.3 1092.5,926.0 1095.5,924.0 1097.6,921.0 1099.0,916.0" fill="#2f4c9e" stroke="#1e2f6e" stroke-width="0.70" stroke-linejoin="round"/>
<polygon points="1099.5,1111.1 1106.0,1111.1 1108.2,1113.0 1111.0,1115.3 1113.6,1117.0 1112.5,1120.0 1116.1,1122.4 1115.2,1125.0 1115.8,1130.0 1113.5,1133.8 1111.0,1137.0 1106.5,1138.8 1099.0,1138.8 1095.0,1137.0 1092.2,1133.8 1091.0,1130.0 1091.2,1125.0 1090.1,1123.0 1092.6,1122.0 1093.0,1120.0 1092.6,1116.6 1095.0,1115.0 1097.2,1113.0" fill="#2f4c9e" stroke="#1e2f6e" stroke-width="0.70" stroke-linejoin="round"/>
<polygon points="1094.8,1134.5 1111.0,1134.5 1110.2,1137.5 1106.5,1139.0 1098.5,1139.0 1095.5,1137.5" fill="#dc2429"/>
<rect x="1114.50" y="1321.30" width="3.40" height="11.00" fill="#2f4c9e" stroke="#1e2f6e" stroke-width="0.6" transform="rotate(0.0 1116.20 1326.80)"/>
<rect x="1110.60" y="1332.70" width="3.40" height="7.00" fill="#2f4c9e" stroke="#1e2f6e" stroke-width="0.6" transform="rotate(45.0 1112.30 1336.20)"/>
<rect x="1101.20" y="1335.35" width="3.40" height="9.50" fill="#2f4c9e" stroke="#1e2f6e" stroke-width="0.6" transform="rotate(90.0 1102.90 1340.10)"/>
<rect x="1091.80" y="1332.70" width="3.40" height="7.00" fill="#2f4c9e" stroke="#1e2f6e" stroke-width="0.6" transform="rotate(135.0 1093.50 1336.20)"/>
<rect x="1087.90" y="1321.80" width="3.40" height="10.00" fill="#2f4c9e" stroke="#1e2f6e" stroke-width="0.6" transform="rotate(180.0 1089.60 1326.80)"/>
<rect x="1091.80" y="1313.90" width="3.40" height="7.00" fill="#2f4c9e" stroke="#1e2f6e" stroke-width="0.6" transform="rotate(225.0 1093.50 1317.40)"/>
<rect x="1101.20" y="1308.75" width="3.40" height="9.50" fill="#2f4c9e" stroke="#1e2f6e" stroke-width="0.6" transform="rotate(270.0 1102.90 1313.50)"/>
<rect x="1110.60" y="1313.90" width="3.40" height="7.00" fill="#2f4c9e" stroke="#1e2f6e" stroke-width="0.6" transform="rotate(315.0 1112.30 1317.40)"/>
<rect x="1112.20" y="1325.20" width="3.00" height="3.20" fill="#2f4c9e" stroke="None" stroke-width="0.6" transform="rotate(0.0 1113.70 1326.80)"/>
<rect x="1101.40" y="1336.00" width="3.00" height="3.20" fill="#2f4c9e" stroke="None" stroke-width="0.6" transform="rotate(90.0 1102.90 1337.60)"/>
<rect x="1090.60" y="1325.20" width="3.00" height="3.20" fill="#2f4c9e" stroke="None" stroke-width="0.6" transform="rotate(180.0 1092.10 1326.80)"/>
<rect x="1101.40" y="1314.40" width="3.00" height="3.20" fill="#2f4c9e" stroke="None" stroke-width="0.6" transform="rotate(270.0 1102.90 1316.00)"/>
<ellipse cx="1102.9" cy="1326.8" rx="10.3" ry="10.3" fill="#8a2a5a"/>
<ellipse cx="1102.9" cy="1326.8" rx="9.3" ry="9.3" fill="#2f4c9e"/>
<ellipse cx="1094.5" cy="1319.5" rx="1.8" ry="1.3" fill="#c8283a"/>
<ellipse cx="1111.5" cy="1334.0" rx="1.8" ry="1.3" fill="#c8283a"/>
<ellipse cx="1102.0" cy="1337.0" rx="3.0" ry="1.0" fill="#b83048"/>
<polygon points="365.6,1676.3 370.3,1676.3 371.6,1679.0 372.0,1682.0 374.6,1684.0 375.2,1687.0 378.6,1687.5 378.9,1690.0 376.6,1691.0 378.6,1692.5 378.6,1695.5 376.0,1698.2 363.0,1698.2 358.0,1697.0 357.6,1694.0 358.6,1692.0 357.4,1689.2 358.6,1688.0 362.6,1687.2 362.8,1684.0 364.2,1682.0 364.5,1678.2" fill="#2f4c9e" stroke="#1e2f6e" stroke-width="0.70" stroke-linejoin="round"/>
<polygon points="365.8,1676.2 370.2,1676.2 370.6,1678.8 365.0,1679.2 364.8,1678.0" fill="#dc2429"/>
<polygon points="361.2,1700.6 361.6,1697.2 364.0,1695.2 368.0,1694.2 372.0,1694.6 375.0,1696.6 375.6,1700.4 373.0,1701.0 363.0,1701.0" fill="#dc2429"/>
<polygon points="365.5,1884.3 371.0,1884.3 372.6,1886.0 375.5,1886.5 377.2,1889.0 376.2,1891.0 380.8,1893.0 379.2,1896.0 380.2,1899.0 378.2,1902.0 375.2,1905.0 371.2,1907.6 366.0,1907.6 361.0,1906.0 358.6,1903.0 357.2,1900.0 358.2,1897.0 356.2,1894.0 357.2,1892.4 359.6,1891.4 359.6,1888.4 362.2,1887.0 362.2,1885.5" fill="#2f4c9e" stroke="#1e2f6e" stroke-width="0.70" stroke-linejoin="round"/>
<polygon points="366.0,1905.8 372.5,1905.8 372.0,1908.0 366.5,1908.0" fill="#c0203a"/>
<ellipse cx="368.1" cy="2104.8" rx="8.3" ry="8.7" fill="#2f4c9e" stroke="#1e2f6e" stroke-width="0.70"/>
<rect x="379.50" y="2100.15" width="3.80" height="10.50" fill="#2f4c9e" stroke="#1e2f6e" stroke-width="0.6" transform="rotate(0.0 381.40 2105.40)"/>
<rect x="353.30" y="2100.15" width="3.80" height="10.50" fill="#2f4c9e" stroke="#1e2f6e" stroke-width="0.6" transform="rotate(180.0 355.20 2105.40)"/>
<rect x="375.70" y="2112.05" width="4.20" height="5.50" fill="#2f4c9e" stroke="#1e2f6e" stroke-width="0.6" transform="rotate(45.0 377.80 2114.80)"/>
<rect x="356.90" y="2112.05" width="4.20" height="5.50" fill="#2f4c9e" stroke="#1e2f6e" stroke-width="0.6" transform="rotate(135.0 359.00 2114.80)"/>
<rect x="356.90" y="2093.25" width="4.20" height="5.50" fill="#2f4c9e" stroke="#1e2f6e" stroke-width="0.6" transform="rotate(225.0 359.00 2096.00)"/>
<rect x="375.70" y="2093.25" width="4.20" height="5.50" fill="#2f4c9e" stroke="#1e2f6e" stroke-width="0.6" transform="rotate(315.0 377.80 2096.00)"/>
<polygon points="366.4,2097.0 370.4,2097.0 370.4,2093.0 373.4,2093.0 373.4,2090.2 370.4,2090.2 370.4,2091.8 366.4,2091.8 366.4,2090.2 363.2,2090.2 363.2,2094.8 366.4,2094.8" fill="#2f4c9e" stroke="#1e2f6e" stroke-width="0.70" stroke-linejoin="round"/>
<polygon points="366.4,2112.5 370.8,2112.5 370.8,2116.2 373.6,2116.2 373.6,2120.8 370.8,2120.8 370.8,2118.5 366.2,2118.5 366.2,2120.8 363.2,2120.8 363.2,2116.0 366.4,2116.0" fill="#2f4c9e" stroke="#1e2f6e" stroke-width="0.70" stroke-linejoin="round"/>
<polygon points="1097.5,1683.1 1101.0,1683.1 1104.0,1686.0 1107.5,1688.3 1108.2,1690.4 1110.2,1691.5 1111.6,1694.0 1113.1,1696.0 1113.9,1699.0 1113.1,1701.2 1110.0,1702.4 1106.0,1702.0 1103.0,1701.6 1096.0,1701.6 1092.0,1702.0 1088.0,1702.4 1085.0,1701.2 1084.1,1699.5 1085.5,1696.0 1087.0,1693.5 1089.0,1692.0 1091.0,1689.0 1094.5,1687.5" fill="#357a3a" stroke="#1f5224" stroke-width="0.70" stroke-linejoin="round"/>
<polygon points="1090.6,1690.0 1108.0,1690.0 1109.6,1693.0 1110.6,1699.6 1108.6,1700.6 1090.0,1700.6 1088.6,1699.6 1089.6,1693.0" fill="#dc2429" stroke="#8c1f2a" stroke-width="0.70" stroke-linejoin="round"/>
<polygon points="1097.5,1689.0 1101.5,1689.0 1105.6,1700.6 1094.0,1700.6" fill="#2f4c9e" stroke="#1e2f6e" stroke-width="0.70" stroke-linejoin="round"/>
<polygon points="1092.0,1703.0 1096.0,1702.8 1097.0,1705.8 1092.2,1706.4" fill="#357a3a" stroke="#1f5224" stroke-width="0.70" stroke-linejoin="round"/>
<polygon points="1103.0,1702.8 1107.0,1703.0 1107.2,1706.4 1103.2,1706.0" fill="#357a3a" stroke="#1f5224" stroke-width="0.70" stroke-linejoin="round"/>
<polygon points="1095.5,1889.0 1102.5,1889.0 1106.0,1890.5 1109.0,1893.0 1111.5,1896.0 1113.0,1899.5 1113.8,1904.0 1113.0,1906.5 1111.0,1908.6 1106.0,1910.6 1100.0,1911.5 1093.0,1911.5 1088.0,1909.6 1086.0,1907.6 1085.0,1904.0 1085.5,1899.0 1087.0,1896.0 1089.5,1893.0 1092.5,1891.0" fill="#357a3a" stroke="#1f5224" stroke-width="0.70" stroke-linejoin="round"/>
<polygon points="1090.0,1905.2 1108.2,1905.2 1108.0,1908.2 1090.5,1908.2" fill="#7a4a35" opacity="0.80"/>
<polygon points="1089.4,1900.2 1093.4,1898.2 1094.4,1906.2 1090.0,1906.6" fill="#dc2429"/>
<polygon points="1104.6,1900.6 1108.0,1899.8 1108.2,1906.0 1104.8,1906.6" fill="#dc2429"/>
<polygon points="1095.5,1893.0 1104.0,1893.0 1106.5,1895.5 1107.2,1899.0 1106.8,1903.0 1105.0,1906.0 1095.0,1906.0 1093.5,1902.0 1093.6,1897.0" fill="#2f4c9e" stroke="#1e2f6e" stroke-width="0.70" stroke-linejoin="round"/>
<ellipse cx="1098.9" cy="2104.7" rx="13.0" ry="13.6" fill="#357a3a" stroke="#1f5224" stroke-width="0.90"/>
<ellipse cx="1099.2" cy="2104.6" rx="8.9" ry="9.5" fill="#2f4c9e" stroke="#1e2f6e" stroke-width="0.80"/>
<ellipse cx="1095.0" cy="2100.0" rx="1.0" ry="1.4" fill="#7a3a8a"/>
<ellipse cx="1095.0" cy="2107.0" rx="1.0" ry="1.4" fill="#7a3a8a"/>
<ellipse cx="1103.0" cy="2108.0" rx="1.0" ry="1.4" fill="#7a3a8a"/>
<ellipse cx="1104.0" cy="2101.0" rx="1.0" ry="1.4" fill="#7a3a8a"/>
<ellipse cx="1097.0" cy="2097.0" rx="1.0" ry="1.4" fill="#7a3a8a"/>
</svg>
</body></html>
